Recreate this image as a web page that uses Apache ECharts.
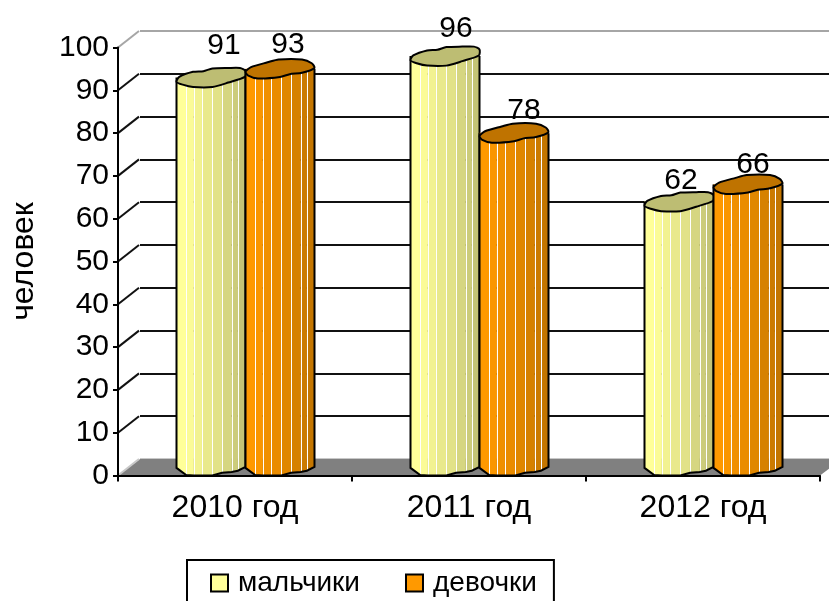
<!DOCTYPE html>
<html>
<head>
<meta charset="utf-8">
<title>chart</title>
<script src="https://cdn.jsdelivr.net/npm/echarts@6/dist/echarts.min.js"></script>
<style>
  html, body { margin: 0; padding: 0; background: #fff; overflow: hidden; }
  #chart { width: 829px; height: 601px; }
</style>
</head>
<body>
<div id="chart"></div>
<script>
var categories = ['2010 год', '2011 год', '2012 год'];
var boys = [91, 96, 62];
var girls = [93, 78, 66];
var yTicks = [0, 10, 20, 30, 40, 50, 60, 70, 80, 90, 100];
var boysName = 'мальчики';
var girlsName = 'девочки';
var yTitle = 'человек';

// depth of the fake 3d box
var depthX = 22;
var depthY = 16.5;
var FONT = '"Liberation Sans", Arial, sans-serif';
var barW = 69;
var capH = 9.5;

// facets of the cylinder
var facetEdges = [0, 0.14, 0.25, 0.37, 0.52, 0.66, 0.80, 0.89, 1];
var facetBottoms = [0.2, 0.95, 1, 1, 1, 0.72, 0.62, 0.5, 0.1];
var boyFacets = ['#FFFF99', '#FBFB97', '#F2F291', '#E9E98C', '#E2E288', '#D6D681', '#CCCC7B', '#C4C476'];
var girlFacets = ['#FF9900', '#FA9600', '#F09000', '#EA8C00', '#E08700', '#D68100', '#CC7B00', '#C47600'];

// wobbly cap outline, u 0..1 across, v -1..1 down
var boyCap = [[0, .45], [.04, -.07], [.24, -.6], [.39, -.67], [.52, -.95], [.75, -1], [.92, -1], [1, -.7], [.99, -.07], [.75, .53], [.52, 1], [.24, 1], [.09, .75]];
var girlCap = [[0, .3], [.08, -.2], [.32, -.7], [.48, -1], [.82, -1], [.96, -.6], [1, -.1], [.82, .4], [.64, .55], [.5, .85], [.18, 1], [.04, .7]];

// label nudges from the cap centre
var boyLabelDx = [13, 11, 2];
var boyLabelDy = [-32, -27, -21];
var girlLabelDx = [8, 10, 5];
var girlLabelDy = [-24, -22, -20];

function cylinder(shift, facets, capColor, cap, dxs, dys) {
  return function (params, api) {
    var i = api.value(0);
    var val = api.value(1);
    var top = api.coord([i, val]);
    var base = api.coord([i, 0]);
    var left = top[0] + shift - barW / 2;
    var yTop = top[1] - capH + 1;
    var yBase = base[1] - capH;
    var kids = [];
    var bottomPts = facetEdges.map(function (u, k) {
      return [left + u * barW, yBase + facetBottoms[k] * capH];
    });
    for (var f = 0; f < facets.length; f++) {
      var x0 = left + facetEdges[f] * barW;
      var x1 = left + facetEdges[f + 1] * barW;
      kids.push({
        type: 'polygon',
        shape: { points: [[x0, yTop], [x1, yTop], bottomPts[f + 1], bottomPts[f]] },
        style: { fill: facets[f], stroke: facets[f], lineWidth: 0.5 }
      });
      if (f > 0) {
        var xl = Math.round(x0) + 0.5;
        kids.push({
          type: 'line',
          shape: { x1: xl, y1: yTop, x2: xl, y2: bottomPts[f][1] },
          style: { stroke: '#ffffff', lineWidth: 1 }
        });
      }
    }
    kids.push({
      type: 'polyline',
      shape: { points: [[left, yTop]].concat(bottomPts).concat([[left + barW, yTop]]) },
      style: { fill: 'none', stroke: '#000', lineWidth: 2 }
    });
    kids.push({
      type: 'polygon',
      shape: {
        points: cap.map(function (p) { return [left + p[0] * barW, yTop + p[1] * capH]; }),
        smooth: 0.25
      },
      style: { fill: capColor, stroke: '#000', lineWidth: 2 }
    });
    kids.push({
      type: 'text',
      style: {
        text: String(val),
        x: top[0] + shift + dxs[i],
        y: yTop + dys[i],
        fill: '#000',
        font: '30px ' + FONT,
        align: 'center',
        verticalAlign: 'middle'
      }
    });
    return { type: 'group', children: kids };
  };
}

var chart = echarts.init(document.getElementById('chart'));

var blackLines = yTicks.map(function (t) {
  return t === 0 ? '#c8c8c8' : (t === 100 ? '#a6a6a6' : '#111');
});

var option = {
  animation: false,
  backgroundColor: '#fff',
  textStyle: { fontFamily: FONT },
  grid: [
    { left: 118, top: 47.5, width: 702, height: 428, outerBoundsMode: 'none' },
    { left: 118 + depthX, top: 47.5 - depthY, width: 702, height: 428, outerBoundsMode: 'none' }
  ],
  legend: {
    left: 187,
    top: 560,
    padding: [9, 17, 40, 23],
    borderColor: '#000',
    borderWidth: 2,
    itemWidth: 17,
    itemHeight: 17,
    itemGap: 45,
    icon: 'rect',
    selectedMode: false,
    textStyle: { fontSize: 28, color: '#000', fontFamily: FONT, padding: [0, 0, 0, 5] },
    itemStyle: { borderColor: '#000', borderWidth: 2 },
    data: [boysName, girlsName]
  },
  xAxis: [
    {
      type: 'category',
      gridIndex: 0,
      data: categories,
      z: 3,
      axisLine: { lineStyle: { color: '#000', width: 2 } },
      axisTick: { show: true, length: 6, lineStyle: { color: '#000', width: 2 } },
      axisLabel: { color: '#000', fontSize: 32, fontFamily: FONT, margin: 17 }
    },
    { type: 'category', gridIndex: 1, data: categories, show: false }
  ],
  yAxis: [
    {
      type: 'value',
      gridIndex: 0,
      min: 0,
      max: 100,
      interval: 10,
      z: 3,
      name: yTitle,
      nameLocation: 'middle',
      nameRotate: 90,
      nameGap: 78,
      nameTextStyle: { color: '#000', fontSize: 32, fontFamily: FONT },
      axisLine: { show: true, lineStyle: { color: '#000', width: 2 } },
      axisTick: { show: true, length: 5, lineStyle: { color: '#000', width: 2 } },
      axisLabel: { color: '#000', fontSize: 30, fontFamily: FONT, margin: 9 },
      splitLine: { show: false }
    },
    {
      type: 'value',
      gridIndex: 1,
      min: 0,
      max: 100,
      interval: 10,
      axisLine: { show: false },
      axisTick: { show: false },
      axisLabel: { show: false },
      splitLine: { show: true, lineStyle: { color: blackLines, width: 2 } }
    }
  ],
  series: [
    {
      // grey floor of the box
      type: 'custom',
      coordinateSystem: 'cartesian2d',
      xAxisIndex: 0,
      yAxisIndex: 0,
      silent: true,
      z: 2,
      clip: false,
      data: [[0, 0]],
      renderItem: function (params, api) {
        var cs = params.coordSys;
        var y0 = api.coord([0, 0])[1];
        return {
          type: 'polygon',
          shape: {
            points: [
              [cs.x, y0], [cs.x + cs.width, y0],
              [cs.x + cs.width + depthX, y0 - depthY], [cs.x + depthX, y0 - depthY]
            ]
          },
          style: { fill: '#808080' }
        };
      }
    },
    {
      // side wall lines
      type: 'custom',
      coordinateSystem: 'cartesian2d',
      xAxisIndex: 0,
      yAxisIndex: 0,
      silent: true,
      z: 2,
      clip: false,
      data: yTicks.map(function (t) { return [0, t]; }),
      renderItem: function (params, api) {
        var cs = params.coordSys;
        var t = api.value(1);
        var y = api.coord([0, t])[1];
        return {
          type: 'line',
          shape: { x1: cs.x, y1: y, x2: cs.x + depthX - 1, y2: y - depthY },
          style: { stroke: t === 0 ? '#c8c8c8' : (t === 100 ? '#a6a6a6' : '#111'), lineWidth: 2 }
        };
      }
    },
    {
      name: boysName,
      type: 'custom',
      coordinateSystem: 'cartesian2d',
      xAxisIndex: 0,
      yAxisIndex: 0,
      z: 4,
      clip: false,
      itemStyle: { color: '#FFFF99' },
      data: boys.map(function (v, i) { return [i, v]; }),
      renderItem: cylinder(-24, boyFacets, '#BDBD73', boyCap, boyLabelDx, boyLabelDy)
    },
    {
      name: girlsName,
      type: 'custom',
      coordinateSystem: 'cartesian2d',
      xAxisIndex: 0,
      yAxisIndex: 0,
      z: 5,
      clip: false,
      itemStyle: { color: '#FF9900' },
      data: girls.map(function (v, i) { return [i, v]; }),
      renderItem: cylinder(45, girlFacets, '#BF7300', girlCap, girlLabelDx, girlLabelDy)
    }
  ]
};

chart.setOption(option);
window.addEventListener('resize', function () { chart.resize(); });
</script>
</body>
</html>
